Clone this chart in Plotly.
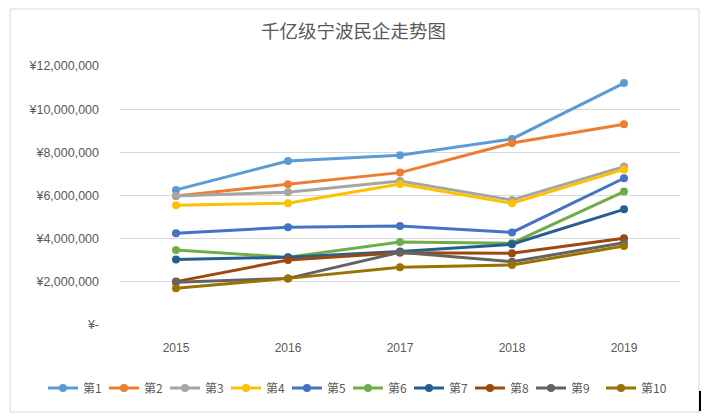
import plotly.graph_objects as go

years = ["2015", "2016", "2017", "2018", "2019"]
series_names = ["第1", "第2", "第3", "第4", "第5", "第6", "第7", "第8", "第9", "第10"]

s1 = [6260000, 7600000, 7860000, 8620000, 11210000]
s2 = [5980000, 6520000, 7060000, 8430000, 9300000]
s3 = [5980000, 6150000, 6670000, 5790000, 7340000]
s4 = [5550000, 5640000, 6530000, 5640000, 7210000]
s5 = [4250000, 4530000, 4590000, 4290000, 6800000]
s6 = [3480000, 3140000, 3850000, 3790000, 6180000]
s7 = [3040000, 3140000, 3400000, 3740000, 5360000]
s8 = [2010000, 3010000, 3350000, 3320000, 4020000]
s9 = [1980000, 2160000, 3370000, 2930000, 3810000]
s10 = [1700000, 2160000, 2670000, 2780000, 3660000]
all_series = [s1, s2, s3, s4, s5, s6, s7, s8, s9, s10]

y_tick_values = [0, 2000000, 4000000, 6000000, 8000000, 10000000, 12000000]
y_tick_labels = ["¥-", "¥2,000,000", "¥4,000,000", "¥6,000,000", "¥8,000,000",
                 "¥10,000,000", "¥12,000,000"]

colors = ["#5B9BD5", "#ED7D31", "#A5A5A5", "#FFC000", "#4472C4",
          "#70AD47", "#255E91", "#9E480E", "#636363", "#997300"]

title_text = "千亿级宁波民企走势图"

fig = go.Figure()
for i, (name, vals, c) in enumerate(zip(series_names, all_series, colors)):
    fig.add_trace(go.Scatter(
        x=years, y=vals, name=name, mode="lines+markers",
        line=dict(color=c, width=3),
        marker=dict(color=c, size=8),
        legend="legend2" if i == len(series_names) - 1 else "legend",
    ))

W, H = 707, 418
L, R, T, B = 120, 27, 66, 93
pw, ph = W - L - R, H - T - B

def px_x(x):
    return (x - L) / pw

def px_y(y):
    return (H - B - y) / ph

font_family = "Liberation Sans, Noto Sans CJK SC, sans-serif"
legend_font = dict(family="Noto Sans CJK SC, sans-serif", size=12, color="#595959")

fig.update_layout(
    width=W, height=H, autosize=False,
    margin=dict(l=L, r=R, t=T, b=B, autoexpand=False),
    paper_bgcolor="white", plot_bgcolor="white",
    font=dict(family=font_family, color="#595959", size=12),
    title=dict(text=title_text, x=0.5, xanchor="center", y=1 - 32 / H, yanchor="middle",
               font=dict(family="Noto Sans CJK SC, sans-serif", size=18.5, color="#595959")),
    xaxis=dict(type="category", range=[-0.5, 4.5], showgrid=False, showline=False,
               zeroline=False, ticks="", ticklabelstandoff=14,
               tickfont=dict(size=12, color="#595959")),
    yaxis=dict(range=[0, 12000000], tickvals=y_tick_values, ticktext=y_tick_labels,
               showgrid=True, gridcolor="#D9D9D9", gridwidth=1, zeroline=False,
               showline=False, ticks="", ticklabelstandoff=20,
               tickfont=dict(size=12.5, color="#595959")),
    legend=dict(orientation="h", x=px_x(43), xanchor="left", y=px_y(388), yanchor="middle",
                font=legend_font, entrywidth=16, entrywidthmode="pixels", itemwidth=30,
                bgcolor="rgba(0,0,0,0)", tracegroupgap=0),
    legend2=dict(orientation="h", x=px_x(43 + 9 * 62), xanchor="left", y=px_y(388),
                 yanchor="middle", font=legend_font, itemwidth=30,
                 bgcolor="rgba(0,0,0,0)", tracegroupgap=0),
    showlegend=True,
)

fig.add_shape(type="rect", xref="paper", yref="paper",
              x0=px_x(10), x1=px_x(699), y0=px_y(412), y1=px_y(9),
              line=dict(color="#D9D9D9", width=1), fillcolor="rgba(0,0,0,0)", layer="below")
fig.add_shape(type="line", xref="paper", yref="paper",
              x0=px_x(700), x1=px_x(700), y0=px_y(411), y1=px_y(391),
              line=dict(color="black", width=2))

fig.write_html("out.html")
